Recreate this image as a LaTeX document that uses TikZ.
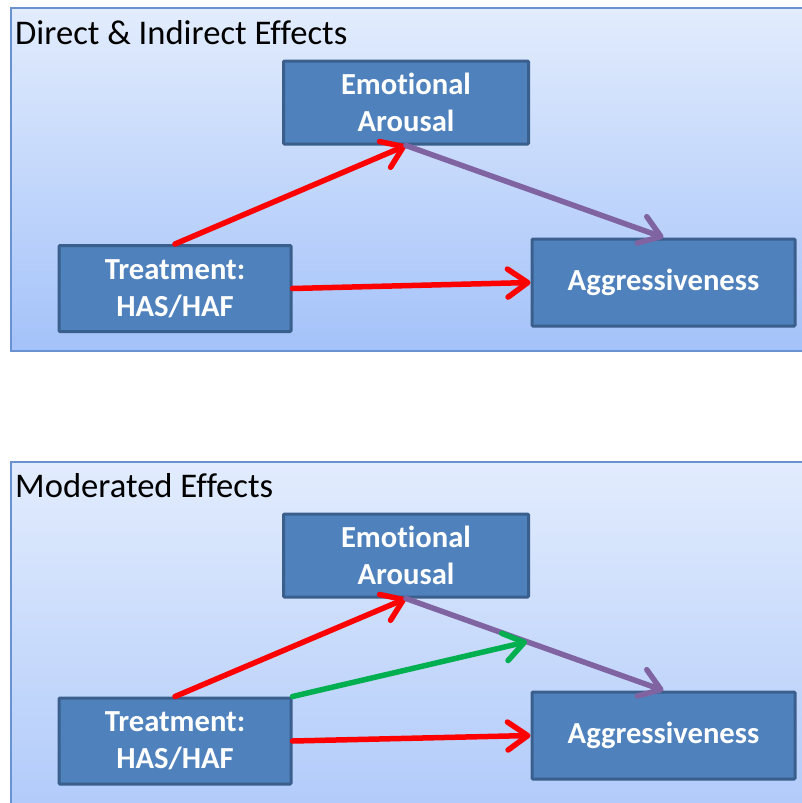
\documentclass[tikz,border=0pt]{standalone}
\usepackage{fontspec}
\setmainfont{Carlito}[RawFeature={-liga;-clig;-dlig;-calt}]
\usetikzlibrary{arrows.meta,calc}
\definecolor{nodefill}{HTML}{4F81BD}
\definecolor{nodeline}{HTML}{3A5F8C}
\definecolor{paneltop}{HTML}{E2ECFD}
\definecolor{panelbot}{HTML}{A4C2F9}
\definecolor{panelline}{HTML}{6A92D0}
\definecolor{arrred}{HTML}{FF0000}
\definecolor{arrpurple}{HTML}{8064A2}
\definecolor{arrgreen}{HTML}{00B050}
\tikzset{
  panel/.style={draw=panelline, line width=1.5pt, top color=paneltop, bottom color=panelbot},
  varbox/.style={draw=nodeline, line width=3pt, fill=nodefill, text=white,
    font=\fontsize{30.6}{37}\selectfont\bfseries, align=center, inner sep=0pt, rounded corners=1pt},
  paneltitle/.style={anchor=base west, inner sep=0pt, font=\fontsize{34.6}{40}\selectfont},
  effect/.style={line width=5.5pt, line cap=round, -{Straight Barb[length=20pt,width=28pt,line cap=round,round]}},
}
\begin{document}
\begin{tikzpicture}[x=1pt,y=-1pt]
\useasboundingbox (0,0) rectangle (802,803);
% panels
\path[panel] (11,8) rectangle (900,351);
\path[panel] (11,462) rectangle (900,900);
\node[paneltitle] (t1) at (15,44) {Direct \& Indirect Effects};
\node[paneltitle] (t2) at (15,497) {Moderated Effects};
% top diagram
\node[varbox, minimum width=245pt, minimum height=83pt] (emoA) at (406,102.5) {Emotional\\Arousal};
\node[varbox, minimum width=232pt, minimum height=86pt] (treA) at (175,288.5) {Treatment:\\HAS/HAF};
\node[varbox, minimum width=263pt, minimum height=87pt] (aggA) at (663.5,282.5) {Aggressiveness};
\draw[effect, arrred] (treA.north) -- (emoA.south);
\draw[effect, arrred] (treA.east) -- (aggA.west);
\draw[effect, arrpurple] (emoA.south) -- (aggA.north);
% bottom diagram
\node[varbox, minimum width=245pt, minimum height=83pt] (emoB) at (406,555.5) {Emotional\\Arousal};
\node[varbox, minimum width=232pt, minimum height=86pt] (treB) at (175,741) {Treatment:\\HAS/HAF};
\node[varbox, minimum width=263pt, minimum height=87pt] (aggB) at (663.5,735.5) {Aggressiveness};
\coordinate (modB) at ($(emoB.south)!0.47!(aggB.north)$);
\draw[effect, arrred] (treB.north) -- (emoB.south);
\draw[effect, arrred] (treB.east) -- (aggB.west);
\draw[effect, arrpurple] (emoB.south) -- (aggB.north);
\draw[effect, arrgreen] (treB.north east) -- (modB);
\end{tikzpicture}
\end{document}
